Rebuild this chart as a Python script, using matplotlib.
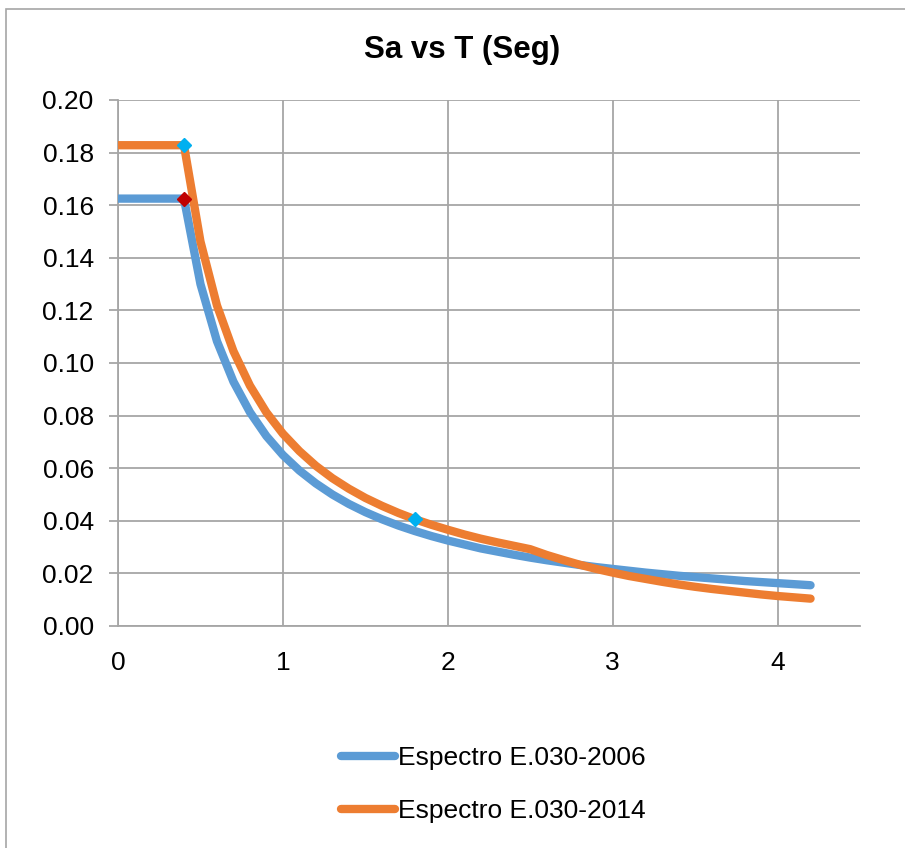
# Espectro de pseudo-aceleraciones: E.030-2006 vs E.030-2014
import matplotlib.pyplot as plt
from matplotlib.patches import Rectangle

periods = [0.0, 0.1, 0.2, 0.3, 0.4, 0.5, 0.6, 0.7, 0.8, 0.9, 1.0,
           1.1, 1.2, 1.3, 1.4, 1.5, 1.6, 1.7, 1.8, 1.9, 2.0,
           2.1, 2.2, 2.3, 2.4, 2.5, 2.6, 2.7, 2.8, 2.9, 3.0,
           3.1, 3.2, 3.3, 3.4, 3.5, 3.6, 3.7, 3.8, 3.9, 4.0,
           4.1, 4.2]

sa_2006 = [0.1625, 0.1625, 0.1625, 0.1625, 0.1625, 0.1300, 0.1083, 0.0929, 0.0813, 0.0722, 0.0650,
           0.0591, 0.0542, 0.0500, 0.0464, 0.0433, 0.0406, 0.0382, 0.0361, 0.0342, 0.0325,
           0.0310, 0.0295, 0.0283, 0.0271, 0.0260, 0.0250, 0.0241, 0.0232, 0.0224, 0.0217,
           0.0210, 0.0203, 0.0197, 0.0191, 0.0186, 0.0181, 0.0176, 0.0171, 0.0167, 0.0163,
           0.0159, 0.0155]

sa_2014 = [0.1828, 0.1828, 0.1828, 0.1828, 0.1828, 0.1462, 0.1219, 0.1045, 0.0914, 0.0812, 0.0731,
           0.0665, 0.0609, 0.0562, 0.0522, 0.0487, 0.0457, 0.0430, 0.0406, 0.0385, 0.0366,
           0.0348, 0.0332, 0.0318, 0.0305, 0.0292, 0.0270, 0.0251, 0.0233, 0.0217, 0.0203,
           0.0190, 0.0179, 0.0168, 0.0158, 0.0149, 0.0141, 0.0134, 0.0127, 0.0120, 0.0114,
           0.0109, 0.0104]

# puntos marcados (Tp / Tl)
mark_2006_T = [0.4]
mark_2006_sa = [0.1625]
mark_2014_T = [0.4, 1.8]
mark_2014_sa = [0.1828, 0.0406]

x_ticks = [0, 1, 2, 3, 4]
y_ticks = [0.00, 0.02, 0.04, 0.06, 0.08, 0.10, 0.12, 0.14, 0.16, 0.18, 0.20]

plt.rcParams['font.family'] = ['Liberation Sans', 'DejaVu Sans']

fig = plt.figure(figsize=(9.05, 8.48), dpi=100)
ax = fig.add_axes([0.1304, 0.2618, 0.8199, 0.6203])

blue = '#5B9BD5'
orange = '#ED7D31'
grid_c = '#A6A6A6'

ax.plot(periods, sa_2006, color=blue, lw=6, solid_capstyle='round',
        solid_joinstyle='round', label='Espectro E.030-2006', zorder=3)
ax.plot(periods, sa_2014, color=orange, lw=6, solid_capstyle='round',
        solid_joinstyle='round', label='Espectro E.030-2014', zorder=4)
ax.plot(mark_2006_T, mark_2006_sa, ls='none', marker='D', ms=7, color='#C00000', zorder=5)
ax.plot(mark_2014_T, mark_2014_sa, ls='none', marker='D', ms=7, color='#00B0F0', zorder=5)

ax.set_xlim(0, 4.5)
ax.set_ylim(0, 0.20)
ax.set_xticks(x_ticks)
ax.set_yticks(y_ticks)
ax.set_xticklabels([str(v) for v in x_ticks])
ax.set_yticklabels([f"{v:.2f}" for v in y_ticks])
ax.tick_params(axis='y', labelsize=19, color=grid_c, length=6.5, width=1.3, pad=11)
ax.tick_params(axis='x', labelsize=19, length=0, pad=18)

ax.grid(True, color=grid_c, lw=1.3)
ax.set_axisbelow(True)
for side in ['top', 'right']:
    ax.spines[side].set_visible(False)
for side in ['left', 'bottom']:
    ax.spines[side].set_color(grid_c)
    ax.spines[side].set_linewidth(1.3)

fig.text(0.511, 0.941, 'Sa vs T (Seg)', fontsize=22.5, fontweight='bold',
         ha='center', va='center')

fig.legend(loc='center', bbox_to_anchor=(0.545, 0.0745), frameon=False,
           fontsize=19, handlelength=2.05, handletextpad=0.1, labelspacing=1.1)

# borde del area del grafico
fig.patches.append(Rectangle((6 / 905, -0.1), 1.2, 1 - 9 / 848 + 0.1,
                             transform=fig.transFigure, fill=False,
                             edgecolor='#A6A6A6', lw=1.2))

fig.savefig('out.png', dpi=100)
